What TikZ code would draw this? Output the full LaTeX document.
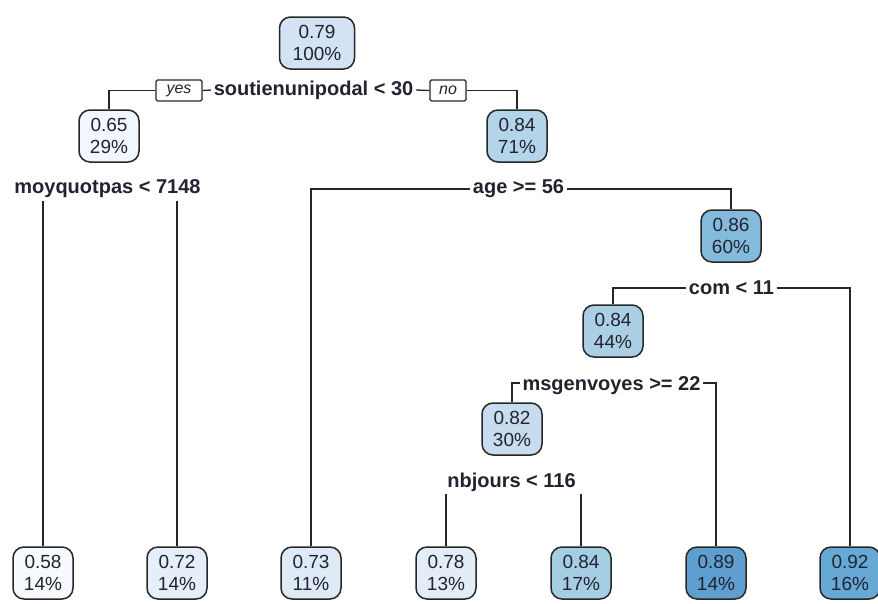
\documentclass[tikz,border=0pt]{standalone}
\usepackage{fontspec}
\setmainfont{Liberation Sans}
\definecolor{ink}{HTML}{232330}
\definecolor{cA}{HTML}{D3E3F3}
\definecolor{cB}{HTML}{F1F7FD}
\definecolor{cC}{HTML}{B4D4E9}
\definecolor{cD}{HTML}{84BBDC}
\definecolor{cE}{HTML}{ABD0E6}
\definecolor{cF}{HTML}{C8DCEF}
\definecolor{cG}{HTML}{F6FAFF}
\definecolor{cH}{HTML}{E5EFF9}
\definecolor{cI}{HTML}{DEEBF7}
\definecolor{cJ}{HTML}{E2EDF8}
\definecolor{cK}{HTML}{A5CDE4}
\definecolor{cL}{HTML}{5E9FD0}
\definecolor{cM}{HTML}{66A9D5}
\tikzset{
  tnode/.style={draw=black!85, line width=1.5pt, rounded corners=11pt,
    minimum width=60pt, minimum height=52pt, align=center, text=ink,
    font=\fontsize{19}{22}\selectfont, inner sep=2pt},
  split/.style={font=\bfseries\fontsize{20}{22}\selectfont, text=ink, inner sep=2.5pt},
  yn/.style={draw=black!85, line width=1.1pt, rounded corners=1.5pt, minimum height=21pt,
    font=\itshape\fontsize{16}{18}\selectfont, text=ink, inner sep=1.5pt},
  edge/.style={line width=1.3pt, black!85}
}
\begin{document}
\begin{tikzpicture}[x=1pt,y=-1pt]
\useasboundingbox (0,0) rectangle (878,603);
\begin{scope}
\clip (0,0) rectangle (878,603);
% internal nodes
\node[tnode, fill=cA, minimum width=75pt] (root) at (317,43) {0.79\\100\%};
\node[tnode, fill=cB] (n1) at (109,136) {0.65\\29\%};
\node[tnode, fill=cC] (n2) at (517,136) {0.84\\71\%};
\node[tnode, fill=cD] (n3) at (731,236) {0.86\\60\%};
\node[tnode, fill=cE] (n4) at (613,331) {0.84\\44\%};
\node[tnode, fill=cF] (n5) at (512,429) {0.82\\30\%};
% leaves
\node[tnode, fill=cG] (l1) at (43,573) {0.58\\14\%};
\node[tnode, fill=cH] (l2) at (177,573) {0.72\\14\%};
\node[tnode, fill=cI] (l3) at (311,573) {0.73\\11\%};
\node[tnode, fill=cJ] (l4) at (446,573) {0.78\\13\%};
\node[tnode, fill=cK] (l5) at (581,573) {0.84\\17\%};
\node[tnode, fill=cL] (l6) at (716,573) {0.89\\14\%};
\node[tnode, fill=cM] (l7) at (850,573) {0.92\\16\%};
% split labels
\node[split] (s1) at (313.5,90) {soutienunipodal < 30};
\node[yn, minimum width=46pt] (yes) at (179,90.5) {yes};
\node[yn, minimum width=36pt] (no) at (448,90.5) {no};
\node[split] (s2) at (107.5,189) {moyquotpas < 7148};
\node[split] (s3) at (518.5,189) {age >= 56};
\node[split] (s4) at (731.5,288) {com < 11};
\node[split] (s5) at (611.5,386) {msgenvoyes >= 22};
\node[split] (s6) at (511.5,482) {nbjours < 116};
% branches
\draw[edge] (yes.west) -| (n1.north);
\draw[edge] (yes.east) -- (s1.west);
\draw[edge] (s1.east) -- (no.west);
\draw[edge] (no.east) -| (n2.north);
\draw[edge] (l1.north) -- (l1.north |- s2.south);
\draw[edge] (l2.north) -- (l2.north |- s2.south);
\draw[edge] (s3.west) -| (l3.north);
\draw[edge] (s3.east) -| (n3.north);
\draw[edge] (s4.west) -| (n4.north);
\draw[edge] (s4.east) -| (l7.north);
\draw[edge] ([yshift=3pt]s5.west) -| (n5.north);
\draw[edge] ([yshift=3pt]s5.east) -| (l6.north);
\draw[edge] (l4.north) -- (l4.north |- s6.south);
\draw[edge] (l5.north) -- (l5.north |- s6.south);
\end{scope}
\end{tikzpicture}
\end{document}
